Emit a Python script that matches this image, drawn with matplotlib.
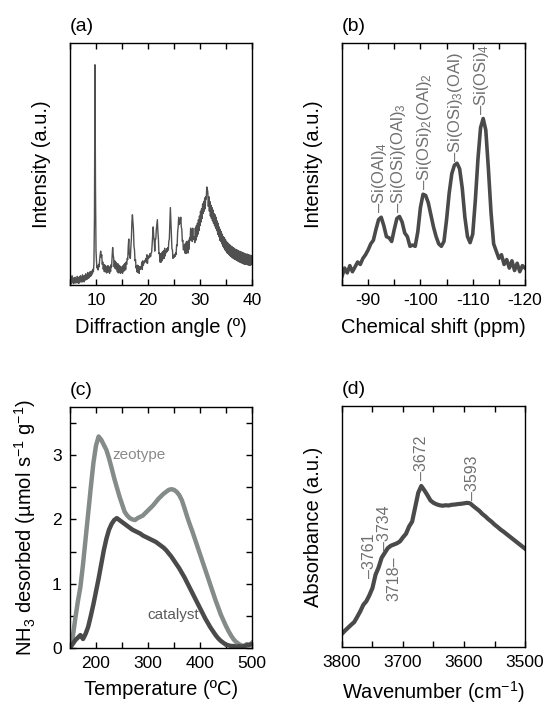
import numpy as np
import matplotlib
matplotlib.use('Agg')
import matplotlib.pyplot as plt
from matplotlib.ticker import MultipleLocator

plt.rcParams['font.family'] = ['Liberation Sans', 'DejaVu Sans']
plt.rcParams['mathtext.fontset'] = 'custom'
plt.rcParams['mathtext.rm'] = 'Liberation Sans'
plt.rcParams['mathtext.it'] = 'Liberation Sans:italic'
plt.rcParams['axes.unicode_minus'] = False

# (a) XRD pattern, 5-40 deg in 0.1 deg steps (rows = 1 degree)
xrd_start, xrd_step = 5.0, 0.1
xrd_rows = [
    [3.5, 1.0, 3.0, 0.6, 3.8, 1.2, 2.8, 0.5, 3.0, 1.2],
    [3.2, 0.8, 2.6, 1.0, 3.6, 0.9, 3.0, 0.7, 3.4, 1.2],
    [3.8, 1.4, 3.2, 1.2, 4.2, 1.6, 3.6, 1.3, 3.9, 2.0],
    [4.6, 2.2, 4.4, 2.4, 5.2, 2.8, 4.8, 3.0, 5.4, 3.6],
    [5.6, 3.8, 5.8, 4.6, 6.5, 5.5, 9.0, 28, 91, 40],
    [14, 9.5, 7.0, 8.0, 6.2, 8.5, 7.5, 10.5, 12.5, 14],
    [11.5, 12.5, 8.5, 9.5, 6.5, 8.5, 5.5, 8.2, 5.8, 7.8],
    [5.0, 7.5, 5.2, 8.0, 5.5, 7.2, 4.8, 7.6, 5.6, 8.4],
    [7.5, 12, 15.5, 12.5, 11.0, 7.5, 10.0, 6.8, 9.5, 6.5],
    [8.5, 5.5, 8.8, 5.0, 8.2, 5.2, 7.8, 4.8, 7.4, 5.2],
    [7.5, 4.8, 8.0, 5.6, 8.5, 6.0, 9.0, 6.4, 9.5, 8.5],
    [11, 10.5, 16, 19, 13, 11.5, 11, 15.5, 19, 26],
    [29, 26, 23, 16, 14.5, 10, 10.5, 7.0, 8.0, 5.4],
    [8.2, 5.2, 7.8, 4.8, 7.5, 6.5, 7.4, 6.8, 9.5, 6.4],
    [10.0, 8.2, 9.0, 9.2, 10.2, 9.8, 11.0, 9.2, 12.5, 9.0],
    [12.0, 11.0, 12.0, 11.4, 13.0, 11.8, 13.2, 13.5, 17, 21],
    [24, 20, 18, 14, 19, 19, 23, 25, 27, 22],
    [19, 13, 13.2, 9.5, 12.8, 9.4, 13.2, 10.0, 13.8, 10.8],
    [14.2, 11.0, 15.2, 12.0, 13.8, 13.4, 15.0, 13.8, 15.4, 14.4],
    [18, 19, 26, 32, 26, 21, 15, 14.5, 11.0, 12.2],
    [11.4, 12.6, 11.8, 13.2, 12.6, 16.5, 16.2, 22, 24, 28],
    [25, 25.5, 26, 28, 24, 23, 18, 18.5, 14.5, 15.2],
    [16.5, 13.2, 17.2, 13.0, 18.0, 14.0, 17.8, 13.2, 18.5, 14.8],
    [19.5, 18.5, 23.5, 22.5, 22.5, 18.0, 23.5, 18.8, 20.0, 19.5],
    [17.5, 23.5, 18.5, 24.5, 20.0, 25.5, 21.0, 27.0, 22.5, 28.5],
    [24.5, 30.5, 26.0, 31.5, 27.5, 33.5, 29.5, 34.5, 30.5, 36.0],
    [31.5, 36.5, 35.5, 40.5, 39.5, 38.5, 32.5, 36.5, 30.5, 34.5],
    [28.5, 33.0, 27.5, 32.0, 26.5, 31.0, 25.5, 29.5, 24.5, 29.0],
    [23.5, 28.0, 22.5, 26.5, 21.0, 25.5, 20.0, 24.0, 18.5, 23.0],
    [18.0, 22.0, 17.0, 21.0, 16.0, 20.0, 15.3, 19.5, 14.5, 18.7],
    [14.0, 18.0, 13.3, 17.5, 13.0, 17.0, 12.5, 16.7, 12.1, 16.1],
    [11.7, 16.0, 11.3, 15.5, 11.0, 15.3, 10.7, 14.9, 10.5, 14.7],
    [10.3, 14.5, 10.0, 14.3, 9.7, 14.0, 9.5, 13.9, 9.3, 13.7],
    [9.1, 13.5, 8.9, 13.3, 8.7, 13.1, 8.5, 12.9, 8.7, 12.7],
    [8.5, 12.8, 8.3, 12.5, 8.2, 12.4, 8.1, 12.3, 8.3, 12.1],
    [10.2],
]

# (b) 29Si NMR, -85 to -120 ppm in 0.5 ppm steps
nmr_start, nmr_step = -85.0, -0.5
nmr_int = [3.5, 7, 5, 8, 5.5, 7.5, 9.5, 8.5, 11, 12.5,
           14.5, 17, 18.5, 23, 27, 28, 24.5, 20, 19.5, 18,
           23, 27.5, 28.3, 26, 21.5, 20, 16, 16.5, 16, 22,
           32, 37.5, 37, 34, 29, 24, 20, 17, 16, 18,
           27, 38, 46, 49.5, 50.3, 48, 40, 28, 20, 17.5,
           21, 35, 52, 65, 68.8, 64, 48, 30, 17, 14,
           11, 12.5, 8.5, 10.5, 7, 10, 6, 9, 5.5, 8, 7]
nmr_labels = [r'–Si(OAl)$_4$', r'–Si(OSi)(OAl)$_3$', r'–Si(OSi)$_2$(OAl)$_2$',
              r'–Si(OSi)$_3$(OAl)', r'–Si(OSi)$_4$']
nmr_label_ppm = [-92.2, -95.9, -100.7, -106.7, -111.7]
nmr_label_y = [29.8, 29.8, 39.3, 50.8, 70.2]

# (c) NH3-TPD, 150-500 C in 5 C steps
tpd_start, tpd_step = 150, 5
zeotype = [0.0, 0.15, 0.45, 0.72, 0.95, 1.3, 1.7, 2.1, 2.5, 2.88,
           3.15, 3.29, 3.24, 3.16, 3.08, 2.95, 2.8, 2.64, 2.5, 2.36,
           2.24, 2.12, 2.06, 2.02, 2.0, 1.99, 2.02, 2.04, 2.06, 2.1,
           2.14, 2.18, 2.22, 2.27, 2.32, 2.36, 2.4, 2.43, 2.46, 2.47,
           2.46, 2.43, 2.38, 2.3, 2.18, 2.05, 1.93, 1.82, 1.7, 1.58,
           1.46, 1.34, 1.22, 1.1, 0.98, 0.86, 0.74, 0.63, 0.52, 0.43,
           0.34, 0.26, 0.19, 0.13, 0.09, 0.06, 0.04, 0.03, 0.06, 0.04, 0.08]
catalyst = [0.0, 0.06, 0.12, 0.16, 0.2, 0.14, 0.22, 0.33, 0.5, 0.68,
            0.88, 1.08, 1.3, 1.52, 1.7, 1.84, 1.93, 1.99, 2.02, 1.99,
            1.96, 1.93, 1.9, 1.87, 1.84, 1.82, 1.8, 1.78, 1.75, 1.73,
            1.71, 1.69, 1.67, 1.65, 1.62, 1.59, 1.56, 1.52, 1.47, 1.42,
            1.36, 1.3, 1.24, 1.17, 1.1, 1.02, 0.94, 0.86, 0.78, 0.7,
            0.62, 0.54, 0.46, 0.39, 0.32, 0.26, 0.2, 0.15, 0.11, 0.08,
            0.05, 0.04, 0.03, 0.03, 0.02, 0.03, 0.02, 0.03, 0.04, 0.05, 0.06]

# (d) FTIR OH region, 3800-3500 cm-1 in 5 cm-1 steps
ir_start, ir_step = 3800, -5
ir_abs = [5.5, 6.8, 8.0, 9.2, 10.3, 12.5, 14.8, 17.5, 19.0, 21.5,
          24.5, 30.0, 33.0, 37.0, 39.0, 41.0, 42.0, 42.5, 43.0, 43.8,
          45.5, 47.0, 50.0, 52.0, 58.0, 64.0, 66.8, 65.0, 63.0, 60.8,
          59.8, 59.2, 58.8, 58.6, 58.8, 58.7, 59.0, 59.1, 59.3, 59.4,
          59.6, 59.8, 59.6, 58.5, 57.5, 56.5, 55.2, 54.2, 53.0, 52.0,
          50.8, 49.8, 48.7, 47.8, 46.8, 45.8, 44.8, 43.8, 42.8, 41.8, 40.8]
ir_labels = ['–3761', '–3734', '3718–', '–3672', '–3593']
ir_label_wn = [3755, 3729.5, 3715, 3669, 3586]
ir_label_y = [28.6, 40.2, 37.5, 69.3, 61.0]
ir_label_va = ['bottom', 'bottom', 'top', 'bottom', 'bottom']

dark = '#4a4a4a'
light = '#858b88'
ann = '#707070'
tick_fs = 12.5
label_fs = 14.5

fig = plt.figure(figsize=(5.47, 7.06), dpi=100)
ax_a = fig.add_axes([0.128, 0.5963, 0.3327, 0.3428])
ax_b = fig.add_axes([0.6252, 0.5963, 0.3346, 0.3428])
ax_c = fig.add_axes([0.128, 0.0822, 0.3327, 0.3414])
ax_d = fig.add_axes([0.6252, 0.0836, 0.3346, 0.3414])


def style(ax, yticks=False):
    for s in ax.spines.values():
        s.set_linewidth(1.0)
    ax.tick_params(which='both', direction='in', top=True, right=yticks,
                   left=yticks, labelleft=yticks, length=4.5, width=1,
                   labelsize=tick_fs, pad=6)


# (a)
xrd = np.concatenate([np.array(r, dtype=float) for r in xrd_rows])
two_theta = xrd_start + xrd_step * np.arange(len(xrd))
ax_a.plot(two_theta, xrd, color='#505050', lw=1.0)
ax_a.set_xlim(5, 40)
ax_a.set_ylim(0, 100)
ax_a.xaxis.set_major_locator(MultipleLocator(10))
ax_a.xaxis.set_minor_locator(MultipleLocator(5))
style(ax_a)
ax_a.set_xlabel('Diffraction angle (º)', fontsize=label_fs, labelpad=7)
ax_a.set_ylabel('Intensity (a.u.)', fontsize=label_fs, labelpad=14)

# (b)
ppm = nmr_start + nmr_step * np.arange(len(nmr_int))
ax_b.plot(ppm, nmr_int, color=dark, lw=2.6, solid_joinstyle='round')
for lab, px, py in zip(nmr_labels, nmr_label_ppm, nmr_label_y):
    ax_b.text(px, py, lab, rotation=90, ha='center', va='bottom',
              color=ann, fontsize=12)
ax_b.set_xlim(-85, -120)
ax_b.set_ylim(0, 100)
ax_b.xaxis.set_major_locator(MultipleLocator(10))
ax_b.xaxis.set_minor_locator(MultipleLocator(5))
style(ax_b)
ax_b.set_xlabel('Chemical shift (ppm)', fontsize=label_fs, labelpad=7)
ax_b.set_ylabel('Intensity (a.u.)', fontsize=label_fs, labelpad=14)

# (c)
temp = tpd_start + tpd_step * np.arange(len(zeotype))
ax_c.plot(temp, zeotype, color=light, lw=3.2)
ax_c.plot(temp, catalyst, color=dark, lw=3.2)
ax_c.text(283, 3.0, 'zeotype', color='#8a8a8a', fontsize=11, ha='center', va='center')
ax_c.text(348, 0.51, 'catalyst', color='#5a5a5a', fontsize=11, ha='center', va='center')
ax_c.set_xlim(150, 500)
ax_c.set_ylim(0, 3.75)
ax_c.xaxis.set_major_locator(MultipleLocator(100))
ax_c.xaxis.set_minor_locator(MultipleLocator(50))
ax_c.yaxis.set_major_locator(MultipleLocator(1))
ax_c.yaxis.set_minor_locator(MultipleLocator(0.5))
style(ax_c, yticks=True)
ax_c.set_xlabel('Temperature (ºC)', fontsize=label_fs, labelpad=6)
ax_c.set_ylabel(r'NH$_3$ desorbed (µmol s$^{-1}$ g$^{-1}$)', fontsize=label_fs, labelpad=10)

# (d)
wn = ir_start + ir_step * np.arange(len(ir_abs))
ax_d.plot(wn, ir_abs, color=dark, lw=3.0)
for lab, px, py, va in zip(ir_labels, ir_label_wn, ir_label_y, ir_label_va):
    ax_d.text(px, py, lab, rotation=90, ha='center', va=va,
              color=ann, fontsize=11.5)
ax_d.set_xlim(3800, 3500)
ax_d.set_ylim(0, 100)
ax_d.xaxis.set_major_locator(MultipleLocator(100))
ax_d.xaxis.set_minor_locator(MultipleLocator(50))
style(ax_d)
ax_d.set_xlabel(r'Wavenumber (cm$^{-1}$)', fontsize=label_fs, labelpad=6)
ax_d.set_ylabel('Absorbance (a.u.)', fontsize=label_fs, labelpad=14)

for ax, tag in zip([ax_a, ax_b, ax_c, ax_d], ['(a)', '(b)', '(c)', '(d)']):
    ax.text(0.0, 1.035, tag, transform=ax.transAxes, fontsize=14,
            ha='left', va='bottom')

fig.savefig('out.png', dpi=100)
